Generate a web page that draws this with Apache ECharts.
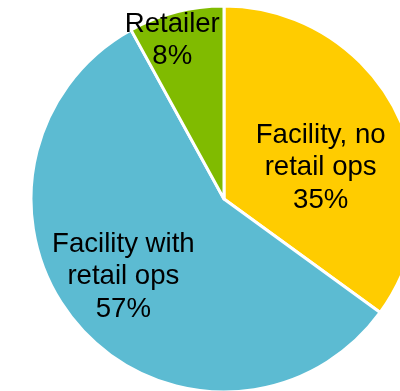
<!DOCTYPE html>
<html>
<head>
<meta charset="utf-8">
<style>
  html, body { margin: 0; padding: 0; background: #ffffff; }
  #chart { width: 400px; height: 391px; }
</style>
<script src="https://cdn.jsdelivr.net/npm/echarts@6/dist/echarts.min.js"></script>
</head>
<body>
<div id="chart"></div>
<script>
// Share of respondents by operation type
const categories = ['Facility, no\nretail ops', 'Facility with\nretail ops', 'Retailer'];
const shares = [35, 57, 8];
const sliceColors = ['#FFCC00', '#5CBBD2', '#80BB00'];
// Nudges that move each label from its default inside spot
const labelNudges = [[8, 14], [-26, 12], [-27, -62]];

const chart = echarts.init(document.getElementById('chart'), null, { renderer: 'canvas' });

chart.setOption({
  animation: false,
  series: [{
    type: 'pie',
    center: [224, 199],
    radius: 193,
    startAngle: 90,
    clockwise: true,
    data: categories.map((name, i) => ({
      name: name,
      value: shares[i],
      itemStyle: { color: sliceColors[i] }
    })),
    itemStyle: { borderColor: '#ffffff', borderWidth: 3 },
    label: {
      show: true,
      position: 'inside',
      formatter: p => p.name + '\n' + p.value + '%',
      fontFamily: 'Liberation Sans, Arial, sans-serif',
      fontSize: 27.6,
      lineHeight: 32.5,
      color: '#000000',
      align: 'center'
    },
    labelLine: { show: false },
    emphasis: { disabled: true },
    labelLayout: params => ({
      dx: labelNudges[params.dataIndex][0],
      dy: labelNudges[params.dataIndex][1]
    })
  }]
});
</script>
</body>
</html>
